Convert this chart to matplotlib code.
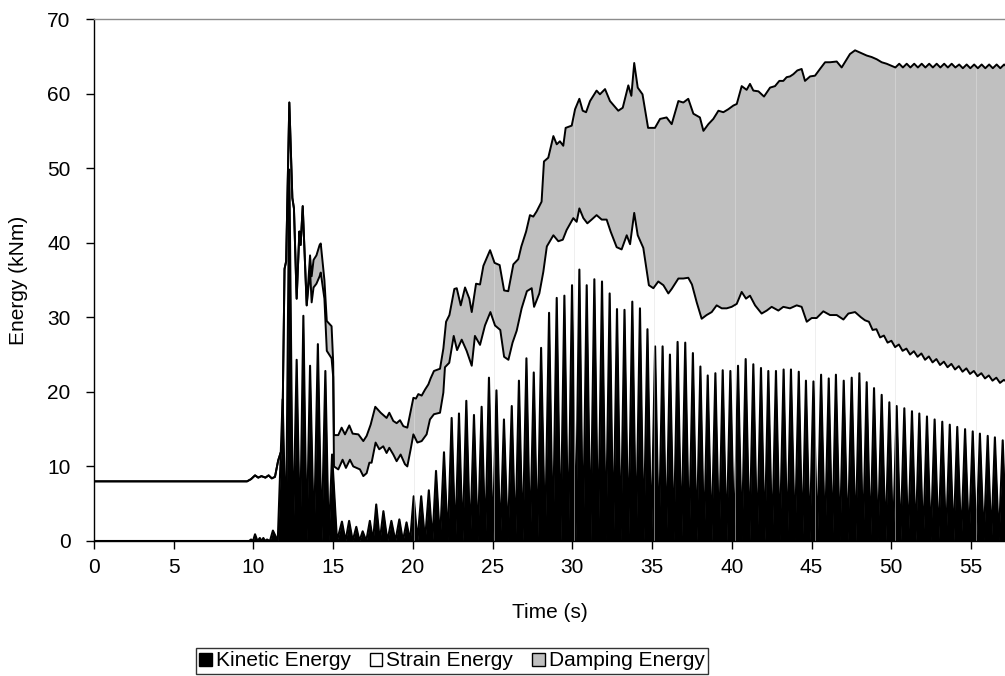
import numpy as np
import matplotlib.pyplot as plt
from matplotlib.patches import Patch

plt.rcParams['font.family'] = ['Liberation Sans', 'DejaVu Sans']

# total energy (top of stack): time (s), energy (kNm)
top_t = [0, 9.6, 9.85, 10.1, 10.3, 10.5, 10.75, 10.95, 11.15, 11.35, 11.55, 11.7, 11.8,
         11.95, 12.05, 12.25, 12.44, 12.54, 12.71, 12.88, 12.96, 13.09, 13.34, 13.55,
         13.65, 13.77, 13.95, 14.15, 14.22, 14.38, 14.45, 14.6, 14.9, 15.0, 15.05,
         15.32, 15.53, 15.74, 16.01, 16.22, 16.58, 16.89, 17.1, 17.35, 17.64, 17.98,
         18.35, 18.52, 18.77, 18.98, 19.19, 19.4, 19.65, 19.82, 20.03, 20.19, 20.34,
         20.55, 20.76, 20.97, 21.11, 21.32, 21.7, 21.91, 22.08, 22.29, 22.6, 22.75,
         23.0, 23.27, 23.54, 23.69, 23.96, 24.21, 24.42, 24.84, 25.12, 25.44, 25.72,
         25.98, 26.3, 26.61, 26.8, 27.1, 27.34, 27.55, 27.76, 28.07, 28.22, 28.49,
         28.81, 29.02, 29.22, 29.43, 29.58, 29.96, 30.17, 30.44, 30.65, 30.86, 31.11,
         31.52, 31.73, 32.05, 32.36, 32.88, 33.16, 33.51, 33.7, 33.88, 34.1, 34.4,
         34.75, 35.18, 35.5, 35.91, 36.23, 36.65, 36.96, 37.27, 37.59, 38.0, 38.22,
         38.53, 38.84, 39.16, 39.47, 39.78, 40.1, 40.31, 40.62, 40.93, 41.14, 41.35,
         41.67, 42.02, 42.4, 42.71, 42.98, 43.23, 43.44, 43.65, 43.86, 44.11, 44.38,
         44.59, 44.91, 45.22, 45.53, 45.85, 46.16, 46.58, 46.89, 47.21, 47.41, 47.73,
         48.04, 48.46, 48.77, 49.09, 49.4, 49.71, 50.03,
         50.26, 50.5, 50.73, 50.97, 51.2, 51.44, 51.67, 51.91, 52.14, 52.38, 52.61,
         52.85, 53.08, 53.32, 53.55, 53.79, 54.02, 54.26, 54.49, 54.73, 54.96, 55.2,
         55.43, 55.67, 55.9, 56.14, 56.37, 56.61, 56.84, 57.08, 57.3]
top_v = [8.0, 8.0, 8.3, 8.8, 8.5, 8.7, 8.5, 8.8, 8.4, 8.6, 10.8, 11.8, 12.3,
         36.5, 37.5, 58.8, 46.0, 44.6, 32.5, 41.5, 39.7, 44.9, 31.6, 38.3,
         35.5, 37.7, 38.3, 39.7, 39.9, 36.5, 35.0, 29.5, 28.8, 24.0, 14.2,
         14.2, 15.2, 14.3, 15.5, 14.4, 14.3, 13.4, 14.1, 15.6, 18.0, 17.2,
         16.5, 17.2, 16.1, 15.8, 16.2, 15.4, 15.2, 17.0, 19.2, 19.1, 19.7,
         19.5, 20.3, 21.0, 21.8, 22.8, 23.1, 25.8, 29.4, 30.3, 33.8, 33.9,
         31.6, 34.0, 32.5, 30.7, 34.5, 34.4, 36.9, 39.0, 37.3, 37.0, 33.6,
         33.5, 37.1, 37.8, 39.5, 41.5, 43.7, 43.5, 44.2, 45.5, 50.9, 51.4,
         54.3, 53.2, 53.6, 53.0, 55.4, 55.7, 57.9, 59.3, 57.7, 57.5, 59.0,
         60.4, 59.9, 60.6, 59.0, 57.7, 58.1, 61.1, 59.7, 64.1, 60.8, 59.9,
         55.4, 55.4, 56.6, 56.8, 55.9, 59.0, 58.8, 59.3, 57.3, 56.8, 55.0,
         55.9, 56.6, 57.7, 57.5, 57.9, 58.4, 58.6, 61.0, 60.5, 61.3, 60.4,
         60.3, 59.6, 60.8, 61.0, 61.7, 61.7, 62.2, 62.3, 62.6, 63.1, 63.3,
         61.7, 62.3, 62.4, 63.3, 64.2, 64.2, 64.3, 63.5, 64.6, 65.3, 65.8,
         65.5, 65.1, 64.9, 64.6, 64.2, 64.0, 63.7,
         63.5, 64.0, 63.5, 64.0, 63.5, 64.0, 63.5, 64.0, 63.5, 64.0, 63.5,
         64.0, 63.5, 64.0, 63.5, 64.0, 63.5, 63.9, 63.4, 63.9, 63.4, 63.9,
         63.4, 63.9, 63.4, 63.9, 63.4, 63.9, 63.4, 63.9, 63.5]

# kinetic + strain energy (lower edge of damping band)
mid_t = [0, 9.6, 9.85, 10.1, 10.3, 10.5, 10.75, 10.95, 11.15, 11.35, 11.55, 11.7, 11.8,
         11.95, 12.05, 12.25, 12.44, 12.54, 12.71, 12.88, 12.96, 13.09, 13.34,
         13.55, 13.65, 13.77, 13.95, 14.15, 14.22, 14.38, 14.45, 14.6, 14.9, 15.0, 15.05,
         15.32, 15.59, 15.8, 16.05, 16.26, 16.47, 16.68, 16.89, 17.1, 17.27, 17.41,
         17.66, 17.89, 18.14, 18.35, 18.52, 18.77, 18.98, 19.23, 19.5, 19.65, 19.86,
         20.03, 20.28, 20.55, 20.86, 21.07, 21.32, 21.7, 21.91, 22.01, 22.28, 22.56,
         22.77, 23.06, 23.37, 23.69, 23.89, 24.21, 24.52, 24.86, 25.15, 25.48, 25.72,
         25.99, 26.25, 26.51, 26.82, 27.15, 27.45, 27.6, 27.93, 28.18, 28.4, 28.81,
         29.12, 29.4, 29.64, 30.06, 30.27, 30.44, 30.69, 30.94, 31.21, 31.52, 31.84,
         32.15, 32.4, 32.78, 33.09, 33.41, 33.62, 33.88, 34.1, 34.45, 34.8, 35.08,
         35.39, 35.71, 36.02, 36.23, 36.65, 36.96, 37.27, 37.5, 37.8, 38.11, 38.42,
         38.74, 39.05, 39.37, 39.68, 39.99, 40.31, 40.62, 40.89, 41.14, 41.46, 41.87,
         42.19, 42.5, 42.92, 43.23, 43.65, 44.07, 44.38, 44.7, 45.01, 45.32, 45.74,
         46.16, 46.58, 47.0, 47.31, 47.73, 48.1, 48.35,
         48.6, 48.83, 49.07, 49.3, 49.54, 49.77, 50.01, 50.24, 50.48, 50.71, 50.95,
         51.18, 51.42, 51.65, 51.89, 52.12, 52.36, 52.59, 52.83, 53.06, 53.3, 53.53,
         53.77, 54.0, 54.24, 54.47, 54.71, 54.94, 55.18, 55.41, 55.65, 55.88, 56.12,
         56.35, 56.59, 56.82, 57.06, 57.3]
mid_v = [8.0, 8.0, 8.3, 8.8, 8.5, 8.7, 8.5, 8.8, 8.4, 8.6, 10.8, 11.8, 12.3,
         36.5, 37.5, 58.8, 46.0, 44.6, 32.5, 41.5, 39.7, 44.9, 31.6,
         36.3, 32.0, 34.0, 34.5, 35.5, 36.0, 33.5, 32.5, 25.5, 24.5, 22.0, 10.0,
         9.6, 10.9, 9.8, 10.9, 10.0, 9.8, 9.6, 8.7, 9.1, 10.5, 10.5,
         13.2, 12.3, 12.7, 11.8, 12.5, 11.6, 10.7, 11.6, 10.3, 10.0, 12.3,
         14.3, 13.2, 13.4, 14.3, 16.3, 17.0, 17.2, 19.9, 23.3, 23.9, 27.5,
         25.6, 27.0, 25.5, 23.5, 27.5, 26.3, 28.9, 30.7, 28.9, 28.3, 24.7,
         24.3, 26.6, 28.2, 31.2, 33.5, 33.9, 31.4, 33.2, 36.1, 39.5, 41.0,
         40.2, 40.4, 41.7, 43.3, 42.8, 44.6, 43.3, 42.6, 43.1, 43.7, 43.1,
         43.1, 41.5, 39.4, 39.1, 41.0, 39.8, 44.0, 41.0, 39.3, 34.3, 33.9,
         34.8, 34.3, 33.2, 33.8, 35.2, 35.2, 35.3, 34.4, 32.0, 29.8, 30.3,
         30.7, 31.6, 31.2, 31.2, 31.4, 31.8, 33.4, 32.5, 32.9, 31.6, 30.5,
         30.9, 31.4, 30.9, 31.4, 31.2, 31.6, 31.4, 29.4, 29.9, 29.9, 30.8,
         30.3, 30.3, 29.7, 30.5, 30.7, 30.0, 29.6,
         29.4, 28.3, 28.4, 27.3, 27.55, 26.6, 26.85, 26.0, 26.35, 25.5, 25.8,
         25.0, 25.45, 24.7, 25.15, 24.3, 24.75, 23.95, 24.4, 23.6, 24.05, 23.3,
         23.75, 23.0, 23.45, 22.7, 23.15, 22.4, 22.8, 22.1, 22.5, 21.8, 22.2,
         21.5, 21.9, 21.2, 21.6, 21.3]

# kinetic energy peaks (it falls back to ~0 between peaks)
kin_peak_t = [9.85, 10.1, 10.4, 10.62, 10.85, 11.22, 11.83, 12.25, 12.71, 13.13, 13.55,
              14.04, 14.51, 14.93, 15.55, 16.0, 16.45, 16.85, 17.3, 17.7, 18.15, 18.65,
              19.15, 19.6, 20.05, 20.52, 21.0, 21.45, 21.95, 22.43, 22.89, 23.35, 23.83,
              24.31, 24.77, 25.24, 25.71, 26.2, 26.65, 27.12, 27.58, 28.04, 28.54, 29.02,
              29.5, 29.98, 30.44, 30.9, 31.38, 31.86, 32.34, 32.8, 33.27, 33.76, 34.24,
              34.71, 35.19, 35.66, 36.12, 36.6, 37.08, 37.56, 38.03, 38.49, 38.97, 39.43,
              39.91, 40.39, 40.87, 41.35, 41.83, 42.29, 42.77, 43.25, 43.71, 44.2, 44.65,
              45.12, 45.6, 46.08, 46.53, 47.02, 47.52, 48.0, 48.46, 48.92, 49.4, 49.88,
              50.34, 50.82, 51.3, 51.76, 52.24, 52.72, 53.2, 53.67, 54.14, 54.63, 55.11,
              55.56, 56.05, 56.5, 56.99]
kin_peak_v = [0.2, 0.9, 0.4, 0.4, 0.2, 1.4, 19.0, 49.8, 24.3, 30.2, 23.5,
              26.4, 22.8, 11.6, 2.6, 2.7, 1.9, 1.3, 2.7, 4.9, 4.0, 2.7,
              2.9, 2.5, 6.0, 6.0, 6.8, 9.4, 11.9, 16.5, 17.1, 18.8, 16.9,
              18.0, 21.9, 20.2, 16.3, 18.1, 21.5, 24.5, 22.6, 25.9, 30.6, 32.6,
              32.9, 34.3, 36.4, 34.3, 35.1, 34.8, 33.2, 31.1, 31.0, 32.1, 31.2,
              28.4, 26.1, 26.1, 25.0, 26.7, 26.6, 25.2, 23.4, 22.2, 22.5, 22.9,
              22.8, 23.5, 24.4, 23.7, 23.2, 22.8, 22.8, 23.0, 23.0, 22.7, 21.5,
              21.4, 22.3, 21.8, 22.3, 21.5, 21.9, 22.5, 21.3, 20.5, 19.6, 18.6,
              18.1, 17.8, 17.4, 17.1, 16.7, 16.3, 16.0, 15.6, 15.3, 15.0, 14.7,
              14.4, 14.1, 13.9, 13.5]

legend_labels = ['Kinetic Energy', 'Strain Energy', 'Damping Energy']
gray = '#c0c0c0'

# kinetic curve: peaks with zero troughs between them
kin_t = [0.0]
kin_v = [0.0]
prev = 9.6
for i in range(len(kin_peak_t)):
    tp = kin_peak_t[i]
    kin_t += [(prev + tp) / 2, tp]
    kin_v += [0.0, kin_peak_v[i]]
    prev = tp
kin_t += [prev + 0.23, 57.3]
kin_v += [0.0, 0.0]
kin_t = np.array(kin_t)
kin_v = np.array(kin_v)

fig = plt.figure(figsize=(10.05, 6.76), dpi=100)
ax = fig.add_axes([94 / 1005, 135 / 676, 911 / 1005, 522 / 676])

# damping band between the two stacked edges
ax.fill(np.r_[top_t, mid_t[::-1]], np.r_[top_v, mid_v[::-1]], color=gray, lw=0, zorder=1)
ax.fill_between(kin_t, 0, kin_v, color='black', lw=0, zorder=2)
ax.plot(kin_t, kin_v, color='black', lw=1.5, zorder=3)

# faint seams that the original renderer left in the fills
for s in [20.05, 25.1, 30.1, 35.1, 40.2, 45.2, 50.25, 55.3]:
    ax.plot([s, s], [0, np.interp(s, top_t, top_v)], color='#e0e0e0', lw=0.6,
            alpha=0.6, zorder=3.5)

ax.plot(mid_t, mid_v, color='black', lw=1.4, zorder=4)
ax.plot(top_t, top_v, color='black', lw=1.4, zorder=4)

ax.set_xlim(0, 911 / 15.945)
ax.set_ylim(0, 70)
ax.set_xticks(np.arange(0, 56, 5))
ax.set_yticks(np.arange(0, 71, 10))
ax.tick_params(axis='both', labelsize=15, length=6, width=1, color='black')
ax.tick_params(axis='y', pad=11)
ax.tick_params(axis='x', pad=6)
ax.spines['right'].set_visible(False)
ax.spines['top'].set_color('#8c8c8c')
ax.spines['left'].set_color('black')
ax.spines['bottom'].set_color('black')
for sp in ['left', 'bottom', 'top']:
    ax.spines[sp].set_linewidth(1.0)
    ax.spines[sp].set_zorder(5)

ax.set_xlabel('Time (s)', fontsize=15)
ax.set_ylabel('Energy (kNm)', fontsize=15)
ax.xaxis.set_label_coords(0.5, (541 - 603) / 522)
ax.yaxis.set_label_coords((28 - 94) / 911, 0.5)

handles = [Patch(facecolor='black', edgecolor='black'),
           Patch(facecolor='white', edgecolor='black'),
           Patch(facecolor=gray, edgecolor='black')]
leg = fig.legend(handles, legend_labels, loc='center', bbox_to_anchor=(452 / 1005, 15 / 676),
                 ncol=3, fontsize=15, frameon=True, fancybox=False, handlelength=0.6,
                 handleheight=0.6, handletextpad=0.2, columnspacing=0.9,
                 borderpad=0.15, borderaxespad=0)
leg.get_frame().set_edgecolor('black')
leg.get_frame().set_linewidth(1.0)

fig.savefig('out.png', dpi=100)
